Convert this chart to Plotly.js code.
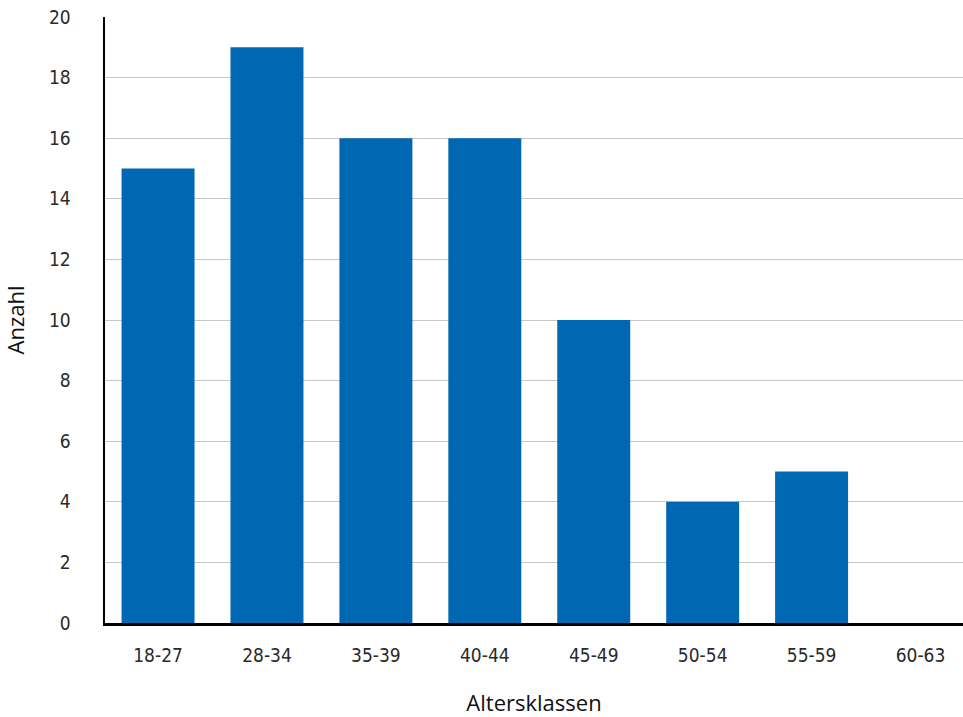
<!DOCTYPE html>
<html>
<head>
<meta charset="utf-8">
<script src="https://cdn.plot.ly/plotly-3.0.1.min.js"></script>
<style>
  html, body { margin: 0; padding: 0; background: #ffffff; }
  #chart { width: 963px; height: 717px; }
</style>
</head>
<body>
<div id="chart"></div>
<script>
// Altersklassen und Anzahl der Personen je Klasse
const categories = ["18-27", "28-34", "35-39", "40-44", "45-49", "50-54", "55-59", "60-63"];
const counts = [15, 19, 16, 16, 10, 4, 5, 0];
const yTicks = [0, 2, 4, 6, 8, 10, 12, 14, 16, 18, 20];

const tickFont = { family: "DejaVu Sans Condensed, Open Sans, sans-serif", size: 19, color: "#2a2a2a" };
const titleFont = { family: "Open Sans, sans-serif", size: 22, color: "#111111" };

const trace = {
  type: "bar",
  x: categories,
  y: counts,
  width: 0.67,
  marker: { color: "#0067b3", line: { width: 0 } },
  hoverinfo: "x+y"
};

const layout = {
  width: 963,
  height: 717,
  margin: { l: 105, r: 0, t: 17, b: 94, pad: 0 },
  paper_bgcolor: "#ffffff",
  plot_bgcolor: "#ffffff",
  showlegend: false,
  xaxis: {
    type: "category",
    range: [-0.487, 7.39],
    showgrid: false,
    zeroline: false,
    showline: true,
    linecolor: "#000000",
    linewidth: 2.5,
    ticks: "outside",
    ticklen: 14,
    tickcolor: "rgba(0,0,0,0)",
    tickfont: tickFont,
    title: { text: "Altersklassen", font: titleFont, standoff: 34 }
  },
  yaxis: {
    range: [0, 20],
    tickvals: yTicks,
    showgrid: true,
    gridcolor: "#c8c8c8",
    gridwidth: 1,
    zeroline: false,
    showline: true,
    linecolor: "#000000",
    linewidth: 2.5,
    ticks: "outside",
    ticklen: 28,
    tickcolor: "rgba(0,0,0,0)",
    tickfont: tickFont,
    title: { text: "Anzahl", font: titleFont, standoff: 22 }
  }
};

Plotly.newPlot("chart", [trace], layout, { displayModeBar: false, staticPlot: true });
</script>
</body>
</html>
